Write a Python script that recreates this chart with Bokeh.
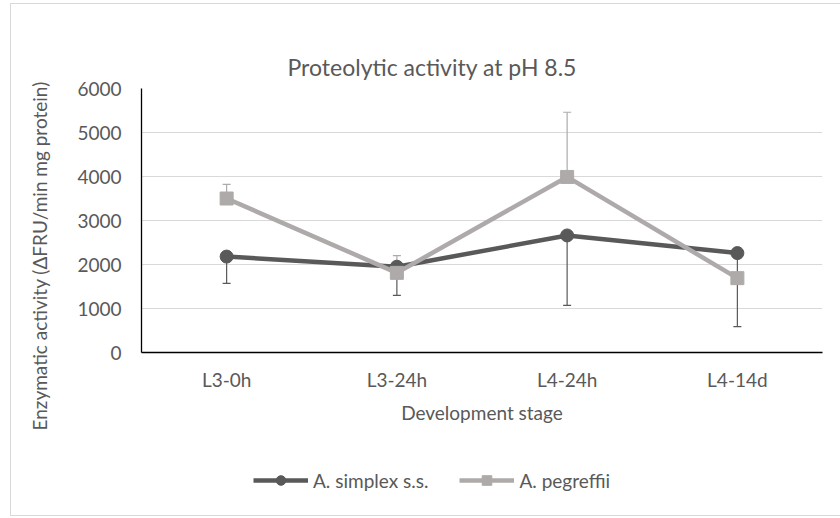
from bokeh.plotting import figure
from bokeh.layouts import column
from bokeh.models import (ColumnDataSource, FactorRange, Range1d, FixedTicker, Whisker,
                          TeeHead, Legend, LegendItem, Title)
from bokeh.embed import file_html
from bokeh.resources import INLINE

# ---- data ----
stages = ["L3-0h", "L3-24h", "L4-24h", "L4-14d"]
simplex = [2180, 1950, 2660, 2260]
simplex_err_minus = [610, 650, 1590, 1670]
pegreffii = [3500, 1810, 3990, 1690]
pegreffii_err_plus = [320, 390, 1470, 0]
y_ticks = [0, 1000, 2000, 3000, 4000, 5000, 6000]

title_text = "Proteolytic activity at pH 8.5"
x_title = "Development stage"
y_title = "Enzymatic activity (\u0394FRU/min mg protein)"
names = ["A. simplex s.s.", "A. pegreffii"]

# ---- style ----
FONT = "Lato"
TXT = "#595959"
DARK = "#595959"
GRAY = "#AEAAAA"
GRID = "#D9D9D9"

border_css = """
:host { position: relative; }
:host::after {
  content: ""; position: absolute; left: 10px; top: 3px; right: 0px; height: 513px;
  box-sizing: border-box; pointer-events: none;
  border-left: 1.5px solid #D9D9D9; border-top: 1.5px solid #D9D9D9;
  border-bottom: 1.5px solid #D9D9D9;
}
"""

x_range = FactorRange(factors=stages)
p = figure(x_range=x_range, y_range=Range1d(0, 6000),
           width=840, height=440, output_backend="svg", toolbar_location=None,
           min_border_left=141, min_border_right=18, min_border_top=88, min_border_bottom=88)
p.outline_line_color = None
p.background_fill_color = "white"
p.border_fill_color = "white"

# title
p.title.text = title_text
p.title.align = "left"
p.title.offset = 146
p.title.standoff = 16
p.title.text_font = FONT
p.title.text_font_size = "23px"
p.title.text_font_style = "normal"
p.title.text_color = TXT

# axes
p.yaxis.ticker = FixedTicker(ticks=y_ticks)
for ax in (p.xaxis[0], p.yaxis[0]):
    ax.axis_line_color = "black"
    ax.axis_line_width = 1.3
    ax.major_tick_line_color = None
    ax.minor_tick_line_color = None
    ax.major_tick_out = 0
    ax.major_tick_in = 0
    ax.major_label_text_font = FONT
    ax.major_label_text_font_size = "19px"
    ax.major_label_text_color = TXT
p.yaxis.major_label_standoff = 20
p.xaxis.major_label_standoff = 15
p.xaxis.axis_label = x_title
p.xaxis.axis_label_standoff = 7
p.xaxis.axis_label_text_font = FONT
p.xaxis.axis_label_text_font_size = "19px"
p.xaxis.axis_label_text_font_style = "normal"
p.xaxis.axis_label_text_color = TXT

p.xgrid.grid_line_color = None
p.ygrid.grid_line_color = GRID
p.ygrid.grid_line_width = 1

# error bars
src_s_err = ColumnDataSource(dict(x=stages, upper=simplex,
                                  lower=[v - e for v, e in zip(simplex, simplex_err_minus)]))
idx = [i for i, e in enumerate(pegreffii_err_plus) if e > 0]
src_p_err = ColumnDataSource(dict(x=[stages[i] for i in idx],
                                  lower=[pegreffii[i] for i in idx],
                                  upper=[pegreffii[i] + pegreffii_err_plus[i] for i in idx]))
w1 = Whisker(source=src_s_err, base="x", upper="upper", lower="lower", dimension="height",
             line_color=DARK, line_width=1.2, upper_head=None,
             lower_head=TeeHead(size=8, line_color=DARK, line_width=1.2), level="underlay")
w2 = Whisker(source=src_p_err, base="x", upper="upper", lower="lower", dimension="height",
             line_color=GRAY, line_width=1.2, lower_head=None,
             upper_head=TeeHead(size=8, line_color=GRAY, line_width=1.2), level="underlay")
p.add_layout(w1)
p.add_layout(w2)

src = ColumnDataSource(dict(x=stages, simplex=simplex, pegreffii=pegreffii))
line_kw = [dict(line_color=DARK, line_width=4.5), dict(line_color=GRAY, line_width=4.5)]
mark_kw = [dict(marker="circle", size=13, fill_color=DARK, line_color=DARK),
           dict(marker="square", size=13, fill_color=GRAY, line_color=GRAY)]
p.line("x", "simplex", source=src, **line_kw[0])
p.scatter("x", "simplex", source=src, **mark_kw[0])
p.line("x", "pegreffii", source=src, **line_kw[1])
p.scatter("x", "pegreffii", source=src, **mark_kw[1])

# y-axis title (side title so it is not clipped)
ytitle = Title(text=y_title, align="left", offset=-78, standoff=43, vertical_align="top",
               text_font=FONT, text_font_size="19px", text_font_style="normal",
               text_color=TXT)
p.add_layout(ytitle, "left")

# ---- legend strip (separate figure so the legend is not clipped) ----
# its renderers share the series data, but the y window keeps them out of view
q = figure(width=840, height=78, output_backend="svg", toolbar_location=None,
           x_axis_type=None, y_axis_type=None, x_range=x_range, y_range=Range1d(-2, -1),
           min_border=0, min_border_left=0, min_border_right=0, min_border_top=0,
           min_border_bottom=0)
q.outline_line_color = None
q.background_fill_color = "white"
q.border_fill_color = "white"
ql1 = q.line("x", "simplex", source=src, **line_kw[0])
qs1 = q.scatter("x", "simplex", source=src, **mark_kw[0])
ql2 = q.line("x", "pegreffii", source=src, **line_kw[1])
qs2 = q.scatter("x", "pegreffii", source=src, **mark_kw[1])
legend = Legend(items=[LegendItem(label=names[0], renderers=[ql1, qs1]),
                       LegendItem(label=names[1], renderers=[ql2, qs2])],
                orientation="horizontal", location=(112, 26),
                glyph_width=55, glyph_height=24, label_standoff=5, spacing=31,
                padding=0, margin=0, border_line_color=None, background_fill_alpha=0,
                label_text_font=FONT, label_text_font_size="19px", label_text_color=TXT)
q.add_layout(legend)

layout = column(p, q, spacing=0, stylesheets=[border_css])

open("out.html", "w").write(file_html(layout, INLINE))
